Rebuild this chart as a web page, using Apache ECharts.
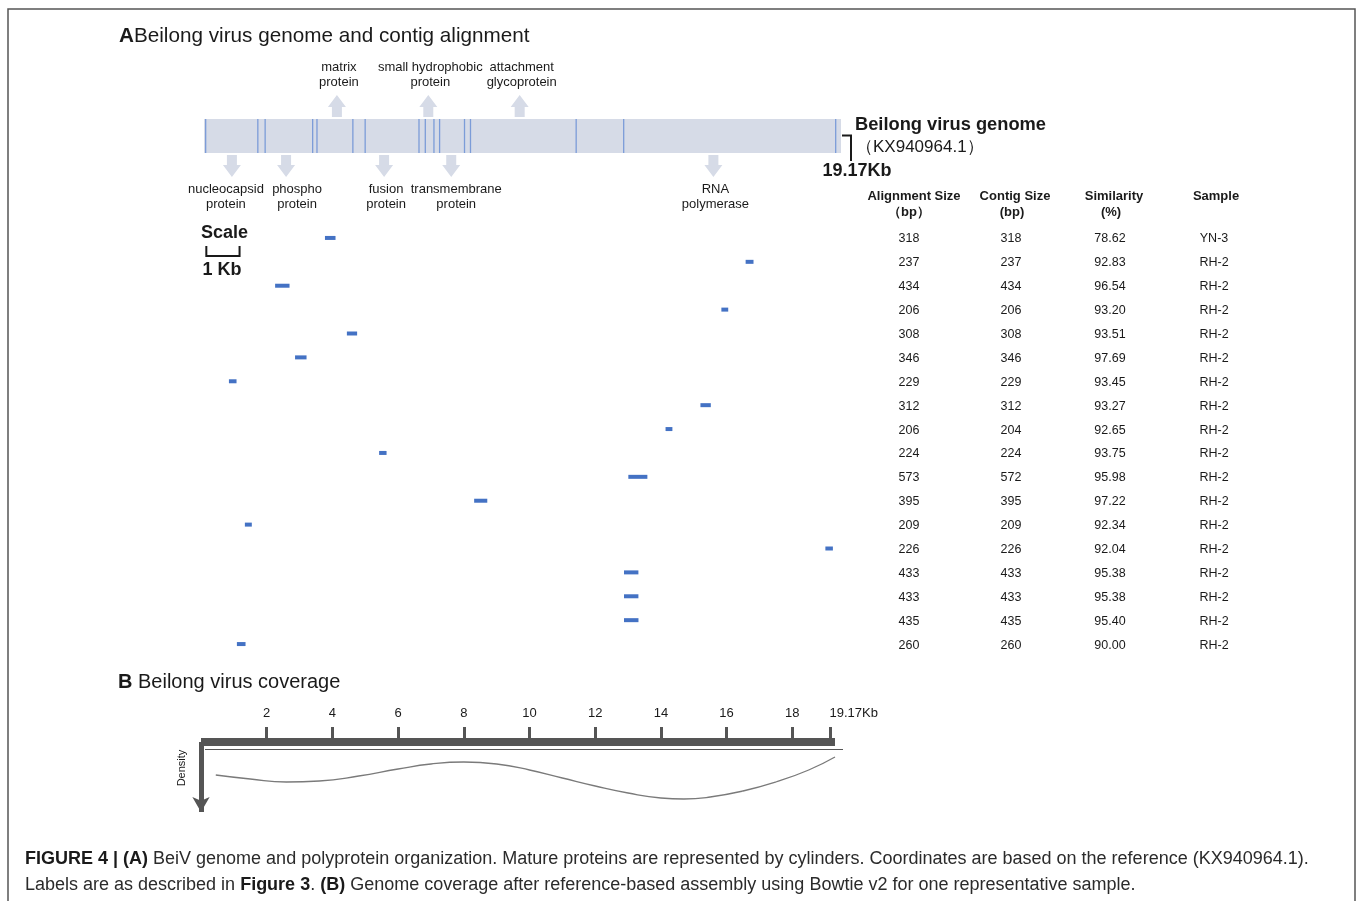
<!DOCTYPE html>
<html>
<head>
<meta charset="utf-8">
<script src="https://cdn.jsdelivr.net/npm/echarts@6/dist/echarts.min.js"></script>
<style>
  html, body { margin: 0; padding: 0; background: #fff; }
  #main { width: 1358px; height: 901px; }
</style>
</head>
<body>
<div id="main"></div>
<script>
// genome, in Kb
var genomeLen = 19.17;
var boundaries = [0.05, 1.62, 1.84, 3.27, 3.40, 4.48, 4.85, 6.47, 6.66, 6.92, 7.09, 7.84, 8.02, 11.20, 12.63, 19.01];

// protein labels: [label, position (Kb), 1 = above the genome / -1 = below]
var proteins = [
  ['matrix\nprotein', 4.00, 1],
  ['small hydrophobic\nprotein', 6.75, 1],
  ['attachment\nglycoprotein', 9.50, 1],
  ['nucleocapsid\nprotein', 0.84, -1],
  ['phospho\nprotein', 2.47, -1],
  ['fusion\nprotein', 5.42, -1],
  ['transmembrane\nprotein', 7.44, -1],
  ['RNA\npolymerase', 15.33, -1]
];

// contigs (one per table row)
var contigStart = [3.64, 16.30, 2.14, 15.57, 4.30, 2.74, 0.75, 14.94, 13.89, 5.27, 12.77, 8.13, 1.23, 18.70, 12.64, 12.64, 12.64, 0.99];
var alignSize = [318, 237, 434, 206, 308, 346, 229, 312, 206, 224, 573, 395, 209, 226, 433, 433, 435, 260];
var contigSize = [318, 237, 434, 206, 308, 346, 229, 312, 204, 224, 572, 395, 209, 226, 433, 433, 435, 260];
var similarity = ['78.62', '92.83', '96.54', '93.20', '93.51', '97.69', '93.45', '93.27', '92.65', '93.75', '95.98', '97.22', '92.34', '92.04', '95.38', '95.38', '95.40', '90.00'];
var sample = ['YN-3', 'RH-2', 'RH-2', 'RH-2', 'RH-2', 'RH-2', 'RH-2', 'RH-2', 'RH-2', 'RH-2', 'RH-2', 'RH-2', 'RH-2', 'RH-2', 'RH-2', 'RH-2', 'RH-2', 'RH-2'];

// coverage (B)
var covKb = [0.45, 1.5, 2.6, 3.6, 4.8, 6.0, 7.0, 8.0, 9.0, 10.0, 11.0, 12.0, 13.0, 14.0, 14.7, 15.5, 16.5, 17.5, 18.5, 19.3];
var covDensity = [33, 37, 40, 39, 34, 27, 22, 20, 22, 28, 36, 44, 51, 56, 57, 55, 49, 40, 28, 15];
var covTicks = [2, 4, 6, 8, 10, 12, 14, 16, 18, 19.17];

var FONT = '"Liberation Sans", Arial, Helvetica, sans-serif';
var INK = '#1a1a1a';
var BAR = '#d6dbe7';
var BLUE = '#4472c4';

var chart = echarts.init(document.getElementById('main'));

var labelShift = {'phospho\nprotein': 11, 'nucleocapsid\nprotein': -6, 'transmembrane\nprotein': 5};

function txt(text, x, y, size, weight, align, extra) {
  var s = {text: text, x: x, y: y, fontSize: size, fontFamily: FONT, fontWeight: weight || 'normal',
    fill: INK, align: align || 'center', textAlign: align || 'center',
    verticalAlign: 'middle', textVerticalAlign: 'middle'};
  if (extra) for (var k in extra) s[k] = extra[k];
  return {type: 'text', style: s};
}

var option = {
  backgroundColor: '#fff',
  animation: false,
  grid: [
    {left: 204, top: 119, width: 637, height: 34},
    {left: 204, top: 226, width: 637, height: 430},
    {left: 201, top: 742, width: 634, height: 70}
  ],
  xAxis: [
    {gridIndex: 0, type: 'value', min: 0, max: genomeLen, show: false},
    {gridIndex: 1, type: 'value', min: 0, max: genomeLen, show: false},
    {gridIndex: 2, type: 'value', min: 0, max: 19.3, position: 'top',
      axisLine: {show: true, lineStyle: {color: '#555', width: 8, cap: 'butt'}},
      axisTick: {show: true, customValues: covTicks, length: 15, lineStyle: {color: '#555', width: 3}},
      axisLabel: {customValues: covTicks, margin: 22, fontSize: 13, fontFamily: FONT, color: INK,
        formatter: function (v) { return v > 19 ? '{e|19.17Kb}' : String(v); },
        rich: {e: {fontSize: 13, fontFamily: FONT, color: INK, padding: [0, 0, 0, 46]}}},
      splitLine: {show: false}}
  ],
  yAxis: [
    {gridIndex: 0, type: 'value', min: 0, max: 1, show: false},
    {gridIndex: 1, type: 'category', data: alignSize.map(function (_, i) { return i; }), inverse: true, show: false},
    {gridIndex: 2, type: 'value', min: 0, max: 70, inverse: true,
      name: 'Density', nameLocation: 'middle', nameGap: 14, nameRotate: 90,
      nameTextStyle: {fontSize: 11, fontFamily: FONT, color: INK, padding: [0, 0, 0, 18]},
      axisLine: {show: true, lineStyle: {color: '#555', width: 5, cap: 'butt'}, symbol: ['arrow', 'none'], symbolSize: [13, 15]},
      axisTick: {show: false}, axisLabel: {show: false}, splitLine: {show: false}}
  ],
  series: [
    {
      // genome bar
      type: 'custom', xAxisIndex: 0, yAxisIndex: 0, clip: false,
      data: [[0, genomeLen]],
      renderItem: function (params, api) {
        var a = api.coord([api.value(0), 1]);
        var b = api.coord([api.value(1), 0]);
        return {type: 'rect', shape: {x: a[0], y: a[1], width: b[0] - a[0], height: b[1] - a[1]}, style: {fill: BAR}};
      }
    },
    {
      // protein boundaries
      type: 'custom', xAxisIndex: 0, yAxisIndex: 0, clip: false,
      data: boundaries.map(function (b) { return [b, 0]; }),
      renderItem: function (params, api) {
        var a = api.coord([api.value(0), 1]);
        var b = api.coord([api.value(0), 0]);
        return {type: 'line', shape: {x1: a[0], y1: a[1], x2: b[0], y2: b[1]}, style: {stroke: '#7c9cd8', lineWidth: 1.3}};
      }
    },
    {
      // protein arrows + labels
      type: 'custom', xAxisIndex: 0, yAxisIndex: 0, clip: false,
      data: proteins.map(function (p) { return [p[1], p[2]]; }),
      renderItem: function (params, api) {
        var p = proteins[params.dataIndex];
        var x = api.coord([api.value(0), 0])[0];
        var up = api.value(1) > 0;
        var e = up ? api.coord([0, 1])[1] : api.coord([0, 0])[1];
        var d = up ? -1 : 1;
        var pts = [[x - 5, e + d * 2], [x + 5, e + d * 2], [x + 5, e + d * 12], [x + 9, e + d * 12],
          [x, e + d * 24], [x - 9, e + d * 12], [x - 5, e + d * 12]];
        var dx = labelShift[p[0]] || 2;
        var ty = up ? e - 29 : e + 29;
        return {type: 'group', children: [
          {type: 'polygon', shape: {points: pts}, style: {fill: BAR}},
          {type: 'text', style: {text: p[0], x: x + dx, y: ty, fontSize: 13, fontFamily: FONT, fill: INK,
            lineHeight: 15, align: 'center', textAlign: 'center',
            verticalAlign: up ? 'bottom' : 'top', textVerticalAlign: up ? 'bottom' : 'top'}}
        ]};
      }
    },
    {
      // scale bar, 1 Kb
      type: 'custom', xAxisIndex: 0, yAxisIndex: 0, clip: false,
      data: [[0.07, 1.07]],
      renderItem: function (params, api) {
        var x0 = api.coord([api.value(0), 0])[0];
        var x1 = api.coord([api.value(1), 0])[0];
        return {type: 'polyline', shape: {points: [[x0, 246], [x0, 256], [x1, 256], [x1, 246]]},
          style: {stroke: INK, lineWidth: 2, fill: null}};
      }
    },
    {
      // contigs
      type: 'custom', xAxisIndex: 1, yAxisIndex: 1, clip: false,
      data: contigStart.map(function (s, i) { return [s, s + alignSize[i] / 1000, i]; }),
      renderItem: function (params, api) {
        var a = api.coord([api.value(0), api.value(2)]);
        var b = api.coord([api.value(1), api.value(2)]);
        return {type: 'rect', shape: {x: a[0], y: a[1] - 2, width: b[0] - a[0], height: 4}, style: {fill: BLUE}};
      }
    },
    {
      // table rows
      type: 'custom', xAxisIndex: 1, yAxisIndex: 1, clip: false,
      data: alignSize.map(function (_, i) { return [0, i]; }),
      renderItem: function (params, api) {
        var i = params.dataIndex;
        var y = api.coord([0, i])[1] + 1;
        var cells = [[909, alignSize[i]], [1011, contigSize[i]], [1110, similarity[i]], [1214, sample[i]]];
        return {type: 'group', children: cells.map(function (c) {
          return txt(String(c[1]), c[0], y, 12.5, 'normal');
        })};
      }
    },
    {
      // coverage
      type: 'line', xAxisIndex: 2, yAxisIndex: 2, smooth: 0.5, showSymbol: false,
      data: covKb.map(function (k, i) { return [k, covDensity[i]]; }),
      lineStyle: {color: '#7a7a7a', width: 1.3}
    }
  ],
  graphic: [
    {type: 'rect', shape: {x: 8, y: 9, width: 1347, height: 1000}, style: {fill: null, stroke: '#555', lineWidth: 1.5}, silent: true},
    {type: 'text', style: {text: '{b|A}Beilong virus genome and contig alignment', x: 119, y: 36, fontSize: 20.7, fontFamily: FONT, fill: INK,
      verticalAlign: 'middle', textVerticalAlign: 'middle', rich: {b: {fontSize: 20.7, fontFamily: FONT, fontWeight: 'bold', fill: INK}}}},
    {type: 'text', style: {text: '{b|B} Beilong virus coverage', x: 118, y: 682, fontSize: 20, fontFamily: FONT, fill: INK,
      verticalAlign: 'middle', textVerticalAlign: 'middle', rich: {b: {fontSize: 20, fontFamily: FONT, fontWeight: 'bold', fill: INK}}}},
    txt('Scale', 201, 233, 18, 'bold', 'left'),
    txt('1 Kb', 222, 270, 18, 'bold'),
    txt('Beilong virus genome', 855, 125, 18.3, 'bold', 'left'),
    txt('（KX940964.1）', 856, 147, 17, 'normal', 'left'),
    txt('19.17Kb', 857, 171, 18, 'bold'),
    {type: 'polyline', shape: {points: [[842, 135.5], [851, 135.5], [851, 161]]}, style: {stroke: INK, lineWidth: 2, fill: null}},
    txt('Alignment Size', 914, 196, 13, 'bold'),
    txt('（bp）', 909, 212, 13, 'bold'),
    txt('Contig Size', 1015, 196, 13, 'bold'),
    txt('(bp)', 1012, 212, 13, 'bold'),
    txt('Similarity', 1114, 196, 13, 'bold'),
    txt('(%)', 1111, 212, 13, 'bold'),
    txt('Sample', 1216, 196, 13, 'bold'),
    {type: 'line', shape: {x1: 205, y1: 749.5, x2: 843, y2: 749.5}, style: {stroke: '#555', lineWidth: 1}},
    {type: 'text', style: {
      text: '{b|FIGURE 4 | (A)} BeiV genome and polyprotein organization. Mature proteins are represented by cylinders. Coordinates are based on the reference (KX940964.1).\n' +
        'Labels are as described in {b|Figure 3}. {b|(B)} Genome coverage after reference-based assembly using Bowtie v2 for one representative sample.',
      x: 25, y: 872, fontSize: 18, fontFamily: FONT, fill: '#2b2b2b', lineHeight: 26,
      verticalAlign: 'middle', textVerticalAlign: 'middle',
      rich: {b: {fontSize: 18, fontFamily: FONT, fontWeight: 'bold', fill: '#1a1a1a', lineHeight: 26}}}}
  ]
};

chart.setOption(option);
</script>
</body>
</html>
